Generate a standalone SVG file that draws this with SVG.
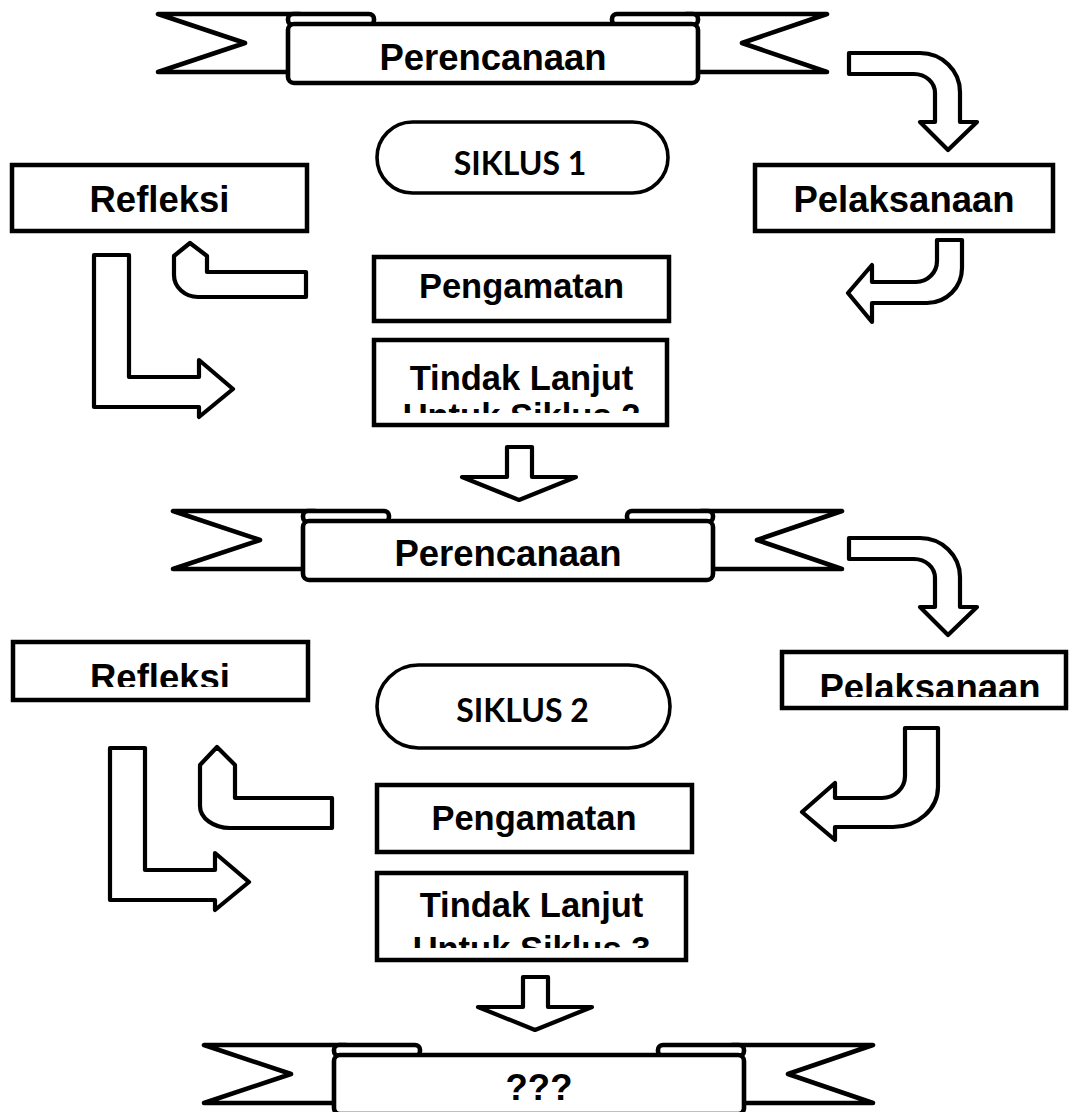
<svg xmlns="http://www.w3.org/2000/svg" xmlns:xlink="http://www.w3.org/1999/xlink" width="1069" height="1112" viewBox="0 0 1069 1112">
  <style>
    .rb { fill: #fff; stroke: #000; stroke-width: 4.6; stroke-linejoin: round; }
    .box { fill: #fff; stroke: #000; stroke-width: 4.5; }
    .pill { fill: #fff; stroke: #000; stroke-width: 3.6; }
    .arr { fill: #fff; stroke: #000; stroke-width: 4.2; stroke-linejoin: round; }
    .lbl { font-family: "Liberation Sans", Arial, sans-serif; font-weight: bold; text-anchor: middle; fill: #000; }
    .big { font-size: 36.5px; }
    .mid { font-size: 34.5px; }
    .cyc { font-family: Lato, "Open Sans", sans-serif; font-weight: bold; font-size: 32px; text-anchor: middle; fill: #000; }
  </style>
  <defs>
    <!-- scroll banner: two forked tails, two rolled curls, and the central panel -->
    <g id="ribbon">
      <path class="rb" d="M158,14 H300 V72 H158 L245,43 Z"/>
      <path class="rb" d="M827,14 H686 V72 H827 L742,43 Z"/>
      <rect class="rb" x="288" y="14" width="86" height="11" rx="5"/>
      <rect class="rb" x="612" y="14" width="86" height="11" rx="5"/>
      <rect class="rb" x="288" y="24" width="410" height="59" rx="6"/>
    </g>
    <clipPath id="clipRef2"><rect x="0" y="640" width="320" height="47"/></clipPath>
    <clipPath id="clipPel2"><rect x="780" y="650" width="289" height="47"/></clipPath>
    <clipPath id="clipTL1"><rect x="370" y="338" width="300" height="75"/></clipPath>
    <clipPath id="clipTL2"><rect x="370" y="871" width="320" height="77"/></clipPath>
  </defs>

  <rect width="1069" height="1112" fill="#fff"/>

  <!-- connectors -->
  <g id="connectors">
    <path id="arr-plan1-exec1" class="arr" d="M849,53 H920 A40,39 0 0 1 960,92 V122 H977 L948,150 L920,122 H935 V93 A21,19 0 0 0 914,74 H849 Z"/>
    <path id="arr-exec1-obs1" class="arr" d="M937,240 H962 V268 A35,35 0 0 1 927,303 H872 V322 L848,293 L872,265 V282 H916 A21,21 0 0 0 937,261 Z"/>
    <path id="arr-obs1-refl1" class="arr" d="M190,243 L207,256 V272 H306 V297 H198 A24,22 0 0 1 174,275 V256 Z"/>
    <path id="arr-refl1-next1" class="arr" d="M94,255 H129 V377 H199 V360 L233,389 L199,417 V407 H94 Z"/>
    <path id="arr-next1-plan2" class="arr" d="M507,447 H532 V477 H576 L519,500 L462,477 H507 Z"/>

    <path id="arr-plan2-exec2" class="arr" transform="translate(0,485)" d="M849,53 H920 A40,39 0 0 1 960,92 V122 H977 L948,150 L920,122 H935 V93 A21,19 0 0 0 914,74 H849 Z"/>
    <path id="arr-exec2-obs2" class="arr" d="M905,728 H938 V787 A45,40 0 0 1 893,827 H835 V840 L802,812 L835,783 V798 H882 A23,22 0 0 0 905,776 Z"/>
    <path id="arr-obs2-refl2" class="arr" d="M217,747 L235,765 V798 H332 V828 H230 A30,22 0 0 1 200,806 V765 Z"/>
    <path id="arr-refl2-next2" class="arr" transform="translate(16,493)" d="M94,255 H129 V377 H199 V360 L233,389 L199,417 V407 H94 Z"/>
    <path id="arr-next2-plan3" class="arr" transform="translate(16,530)" d="M507,447 H532 V477 H576 L519,500 L462,477 H507 Z"/>
  </g>

  <!-- cycle 1 -->
  <g id="perencanaan-1">
    <use href="#ribbon" xlink:href="#ribbon"/>
    <text class="lbl big" x="493" y="70">Perencanaan</text>
  </g>
  <g id="siklus-1">
    <rect class="pill" x="377" y="122" width="291" height="71" rx="35.5"/>
    <text class="cyc" x="520" y="175">SIKLUS 1</text>
  </g>
  <g id="refleksi-1">
    <rect class="box" x="12" y="165" width="295" height="66"/>
    <text class="lbl big" x="159.5" y="212">Refleksi</text>
  </g>
  <g id="pelaksanaan-1">
    <rect class="box" x="755" y="165" width="298" height="66"/>
    <text class="lbl big" x="904" y="212">Pelaksanaan</text>
  </g>
  <g id="pengamatan-1">
    <rect class="box" x="374" y="257" width="295" height="64"/>
    <text class="lbl mid" x="521.5" y="298">Pengamatan</text>
  </g>
  <g id="tindak-lanjut-1">
    <rect class="box" x="374" y="340" width="293" height="85"/>
    <g clip-path="url(#clipTL1)">
      <text class="lbl mid" x="521.5" y="390">Tindak Lanjut</text>
      <text class="lbl mid" x="521.5" y="428">Untuk Siklus 2</text>
    </g>
  </g>

  <!-- cycle 2 -->
  <g id="perencanaan-2">
    <use href="#ribbon" xlink:href="#ribbon" transform="translate(15,497)"/>
    <text class="lbl big" x="508" y="566">Perencanaan</text>
  </g>
  <g id="refleksi-2">
    <rect class="box" x="13" y="642" width="295" height="58"/>
    <text class="lbl big" x="160" y="690" clip-path="url(#clipRef2)">Refleksi</text>
  </g>
  <g id="pelaksanaan-2">
    <rect class="box" x="782" y="652" width="284" height="56"/>
    <text class="lbl big" x="930" y="700" clip-path="url(#clipPel2)">Pelaksanaan</text>
  </g>
  <g id="siklus-2">
    <rect class="pill" x="377" y="665" width="293" height="83" rx="41.5"/>
    <text class="cyc" x="522.5" y="722">SIKLUS 2</text>
  </g>
  <g id="pengamatan-2">
    <rect class="box" x="377" y="785" width="315" height="67"/>
    <text class="lbl mid" x="534" y="830">Pengamatan</text>
  </g>
  <g id="tindak-lanjut-2">
    <rect class="box" x="377" y="873" width="309" height="87"/>
    <g clip-path="url(#clipTL2)">
      <text class="lbl mid" x="531.5" y="917">Tindak Lanjut</text>
      <text class="lbl mid" x="531.5" y="961">Untuk Siklus 3</text>
    </g>
  </g>

  <!-- next cycle -->
  <g id="perencanaan-3">
    <use href="#ribbon" xlink:href="#ribbon" transform="translate(46,1031)"/>
    <text class="lbl big" x="539" y="1100">???</text>
  </g>
</svg>
